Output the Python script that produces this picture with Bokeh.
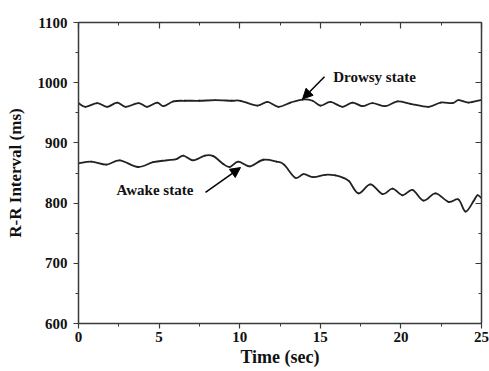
import numpy as np
from bokeh.plotting import figure
from bokeh.models import (LinearAxis, Range1d, Label, Arrow, NormalHead,
                          FixedTicker, ColumnDataSource)
from bokeh.embed import file_html
from bokeh.resources import INLINE

# ---- data ----
awake_t = [0.00, 0.81, 1.74, 2.56, 3.70, 4.63, 5.46, 6.08, 6.50, 7.12, 7.84, 8.36,
           8.98, 9.39, 9.91, 10.63, 11.46, 12.28, 12.75, 13.45, 13.96, 14.58, 15.32,
           15.94, 16.44, 16.80, 17.37, 18.11, 18.86, 19.48, 20.10, 20.72, 21.40,
           22.15, 22.95, 23.57, 24.01, 24.50, 24.75, 25.00]
awake_v = [866, 869, 864, 871, 860, 868, 871, 873, 879, 871, 879, 878,
           865, 860, 869, 861, 872, 869, 864, 842, 848, 843, 847,
           846, 842, 836, 816, 831, 815, 824, 813, 822, 804,
           816, 802, 806, 786, 803, 813, 808]

drowsy_t = [0.00, 0.43, 1.16, 1.78, 2.40, 2.92, 3.72, 4.26, 4.88, 5.27, 5.89, 6.60,
            7.50, 8.50, 9.50, 10.05, 11.10, 11.72, 12.41, 13.15, 13.90, 14.52, 15.01,
            15.63, 16.38, 17.00, 17.62, 18.24, 19.04, 19.79, 20.60, 21.71, 22.46,
            23.20, 23.57, 24.19, 24.94]
drowsy_v = [966, 960, 966, 960, 967, 960, 966, 960, 967, 961, 969, 970,
            970, 971, 970, 970, 962, 968, 960, 967, 972, 970, 962,
            968, 960, 967, 961, 966, 961, 969, 965, 960, 967,
            966, 971, 967, 971]

x_ticks = [0, 5, 10, 15, 20, 25]
y_ticks = [600, 700, 800, 900, 1000, 1100]

FONT = "Liberation Serif"
LINE = "#222222"
AX = "#3a3a3a"

p = figure(width=489, height=371, output_backend="svg", toolbar_location=None,
           x_range=Range1d(0, 25), y_range=Range1d(600, 1100),
           min_border_left=78, min_border_right=8, min_border_top=22,
           min_border_bottom=48)
p.outline_line_color = None
p.grid.visible = False
p.background_fill_color = "white"
p.border_fill_color = "white"


def draw(t, v):
    # smooth curve through the read points (Catmull-Rom drawn as Bezier segments)
    t = np.asarray(t, float)
    v = np.asarray(v, float)
    tp = np.concatenate([[t[0]], t, [t[-1]]])
    vp = np.concatenate([[v[0]], v, [v[-1]]])
    n = len(t) - 1
    x0, y0 = t[:-1], v[:-1]
    x1, y1 = t[1:], v[1:]
    cx0 = tp[1:n + 1] + (tp[2:n + 2] - tp[0:n]) / 6.0
    cy0 = vp[1:n + 1] + (vp[2:n + 2] - vp[0:n]) / 6.0
    cx1 = tp[2:n + 2] - (tp[3:n + 3] - tp[1:n + 1]) / 6.0
    cy1 = vp[2:n + 2] - (vp[3:n + 3] - vp[1:n + 1]) / 6.0
    src = ColumnDataSource(dict(x0=x0, y0=y0, x1=x1, y1=y1,
                                cx0=cx0, cy0=cy0, cx1=cx1, cy1=cy1))
    p.bezier(x0="x0", y0="y0", x1="x1", y1="y1", cx0="cx0", cy0="cy0",
             cx1="cx1", cy1="cy1", source=src, line_color=LINE, line_width=1.8,
             line_cap="round")


draw(awake_t, awake_v)
draw(drowsy_t, drowsy_v)


def style_axis(ax, inward=False):
    ax.axis_line_color = AX
    ax.axis_line_width = 1.5
    ax.major_tick_line_color = AX
    ax.minor_tick_line_color = AX
    ax.major_tick_line_width = 1.2
    ax.minor_tick_line_width = 1.0
    if inward:
        ax.major_tick_in, ax.major_tick_out = 6, 0
        ax.minor_tick_in, ax.minor_tick_out = 3, 0
    else:
        ax.major_tick_in, ax.major_tick_out = 0, 5
        ax.minor_tick_in, ax.minor_tick_out = 0, 3
    ax.major_label_text_font = FONT
    ax.major_label_text_font_style = "bold"
    ax.major_label_text_font_size = "15px"
    ax.major_label_text_color = "#111111"
    ax.axis_label_text_font = FONT
    ax.axis_label_text_font_style = "bold"
    ax.axis_label_text_font_size = "17px"
    ax.axis_label_text_color = "#111111"


x_minor = [v / 2 for v in range(0, 51, 5)]
y_minor = list(range(600, 1101, 50))

xa = p.xaxis[0]
xa.ticker = FixedTicker(ticks=x_ticks, minor_ticks=x_minor)
xa.axis_label = "Time (sec)"
style_axis(xa)
xa.axis_label_text_font_size = "18px"
xa.major_label_standoff = 3
xa.axis_label_standoff = 2

ya = p.yaxis[0]
ya.ticker = FixedTicker(ticks=y_ticks, minor_ticks=y_minor)
ya.axis_label = "R-R Interval (ms)"
style_axis(ya)
ya.major_label_standoff = 6
ya.axis_label_standoff = 10

top = LinearAxis(ticker=FixedTicker(ticks=x_ticks, minor_ticks=x_minor))
style_axis(top, inward=True)
top.major_label_overrides = {t: "" for t in x_ticks}
p.add_layout(top, "above")
right = LinearAxis(ticker=FixedTicker(ticks=y_ticks, minor_ticks=y_minor))
style_axis(right, inward=True)
right.major_label_overrides = {t: "" for t in y_ticks}
p.add_layout(right, "right")

# annotations
p.add_layout(Label(x=15.8, y=1010, text="Drowsy state", text_font=FONT,
                   text_font_style="bold", text_font_size="15px",
                   text_baseline="middle", text_color="#111111"))
p.add_layout(Label(x=2.36, y=822, text="Awake state", text_font=FONT,
                   text_font_style="bold", text_font_size="15px",
                   text_baseline="middle", text_color="#111111"))
p.add_layout(Arrow(end=NormalHead(size=10, fill_color="black", line_color="black"),
                   x_start=15.26, y_start=1010, x_end=13.9, y_end=973,
                   line_width=1.5, line_color="black"))
p.add_layout(Arrow(end=NormalHead(size=10, fill_color="black", line_color="black"),
                   x_start=7.88, y_start=818, x_end=10.05, y_end=859,
                   line_width=1.5, line_color="black"))

open("out.html", "w").write(file_html(p, INLINE))
